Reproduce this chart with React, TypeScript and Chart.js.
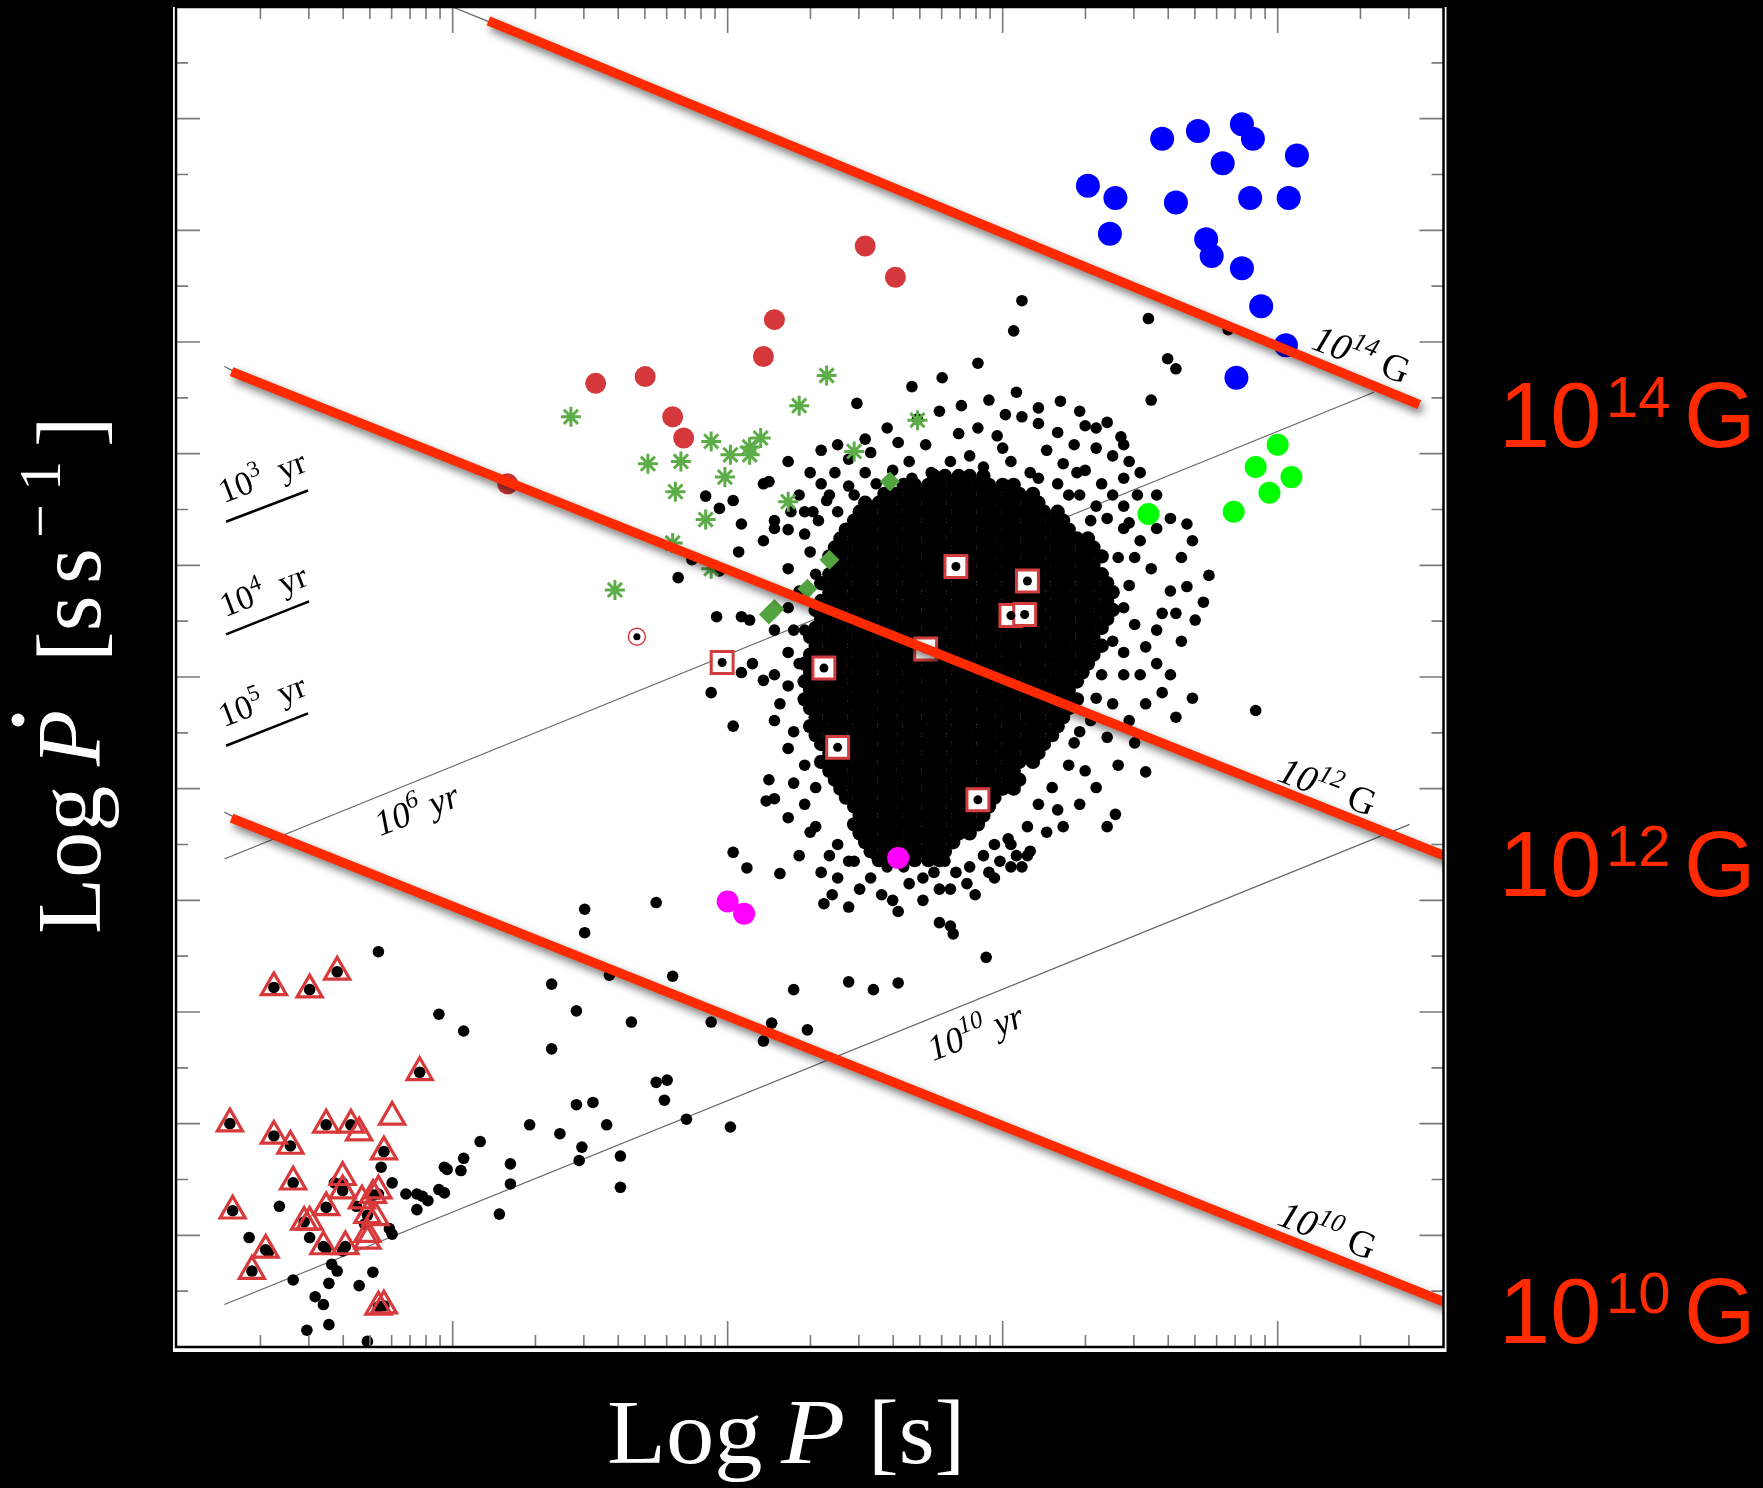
import { useEffect, useRef } from "react";
import { Chart, registerables } from "chart.js";
Chart.register(...registerables);

type Pt = [number, number];

// Axes: log10 P [s] (x) and log10 Pdot [s/s] (y)
const LOGP_MIN = -3.006;
const LOGP_MAX = 1.603;
const LOGPDOT_MIN = -21;
const LOGPDOT_MAX = -9;

const magnetars: Pt[] = [
  [0.31, -10.6], [0.41, -10.71], [0.39, -11.03], [0.58, -10.18], [0.71, -10.11], [0.87, -10.05],
  [0.91, -10.18], [0.8, -10.4], [1.07, -10.33], [0.63, -10.75], [0.9, -10.71], [1.04, -10.71],
  [0.74, -11.08], [0.76, -11.23], [0.87, -11.34], [0.94, -11.68], [1.03, -12.03], [0.85, -12.32],
];
const rrats: Pt[] = [
  [-0.5, -11.14], [-0.39, -11.42], [-0.83, -11.8], [-0.87, -12.13], [-1.3, -12.31],
  [-1.48, -12.37], [-1.2, -12.67], [-1.16, -12.86], [-1.8, -13.27],
];
const xdins: Pt[] = [
  [1.0, -12.92], [0.92, -13.12], [1.05, -13.21], [0.97, -13.35], [0.84, -13.52], [0.53, -13.54],
];
const ccos: Pt[] = [[-0.38, -16.62], [-1.0, -17.01], [-0.94, -17.12]];
const gammaPulsars: Pt[] = [
  [-1.57, -12.67], [-1.29, -13.09], [-1.17, -13.07], [-1.19, -13.34], [-1.08, -13.59], [-1.2, -13.8],
  [-1.41, -14.22], [-1.06, -12.89], [-0.99, -13.01], [-0.92, -12.94], [-0.88, -12.86], [-0.92, -13.01],
  [-1.01, -13.21], [-0.78, -13.43], [-0.74, -12.57], [-0.64, -12.3], [-0.54, -12.98], [-0.31, -12.7],
  [-1.06, -14.03],
];
const diamondPulsars: Pt[] = [[-0.41, -13.25], [-0.63, -13.95], [-0.71, -14.21], [-0.83, -14.39], [-0.85, -14.44]];
const snrPulsars: Pt[] = [
  [-0.17, -14.01], [0.09, -14.14], [0.03, -14.45], [0.08, -14.44], [-0.28, -14.75],
  [-0.65, -14.92], [-1.02, -14.87], [-0.6, -15.63], [-0.09, -16.1],
];
const binaryMsps: Pt[] = [
  [-2.65, -17.78], [-2.52, -17.8], [-2.42, -17.64], [-2.12, -18.54], [-2.81, -19.0], [-2.65, -19.11],
  [-2.59, -19.2], [-2.46, -19.01], [-2.37, -19.01], [-2.34, -19.08], [-2.22, -18.94], [-2.25, -19.25],
  [-2.58, -19.52], [-2.4, -19.48], [-2.4, -19.6], [-2.29, -19.64], [-2.27, -19.6], [-2.33, -19.69],
  [-2.8, -19.78], [-2.54, -19.88], [-2.52, -19.88], [-2.46, -19.75], [-2.31, -19.82], [-2.28, -19.84],
  [-2.68, -20.13], [-2.73, -20.32], [-2.47, -20.1], [-2.39, -20.1], [-2.31, -19.99], [-2.31, -20.05],
  [-2.27, -20.64], [-2.25, -20.63],
];
const sunPulsar: Pt[] = [[-1.33, -14.64]];

const mspDots: Pt[] = [
  [-2.8, -19.78], [-2.74, -20.02], [-2.67, -20.15], [-2.73, -20.32], [-2.63, -19.74], [-2.58, -20.4],
  [-2.58, -19.53], [-2.5, -20.55], [-2.47, -20.62], [-2.45, -20.43], [-2.53, -20.85], [-2.45, -20.8],
  [-2.34, -20.45], [-2.29, -20.33], [-2.31, -20.95], [-2.42, -20.32], [-2.44, -20.26], [-2.52, -20.02],
  [-2.46, -20.12], [-2.4, -20.14], [-2.22, -19.99], [-2.22, -19.53], [-2.17, -19.63], [-2.13, -19.63],
  [-2.09, -19.69], [-2.13, -19.77], [-2.05, -19.59], [-2.03, -19.62], [-2.03, -19.39], [-1.96, -19.31],
  [-1.83, -19.81], [-1.79, -19.54], [-1.79, -19.36], [-1.54, -19.33], [-1.39, -19.29], [-1.39, -19.57],
  [-2.26, -19.39], [-2.35, -19.74], [-2.32, -19.9], [-2.27, -19.63], [-2.23, -19.94], [-2.4, -19.53],
  [-2.43, -19.53], [-2.65, -17.78], [-2.52, -17.8], [-2.42, -17.64], [-2.12, -18.54], [-2.81, -19.0],
  [-2.65, -19.11], [-2.59, -19.2], [-2.46, -19.01], [-2.37, -19.01], [-2.25, -19.25], [-2.4, -19.6],
  [-2.54, -19.88], [-2.46, -19.75], [-2.68, -20.13], [-2.27, -20.64], [-2.25, -20.63], [-2.47, -20.1],
  [-2.39, -20.1], [-2.31, -19.82], [-2.29, -19.64],
];
const midDots: Pt[] = [
  [-2.27, -17.46], [-2.05, -18.02], [-1.96, -18.17], [-1.64, -17.75], [-1.55, -17.99], [-1.64, -18.33],
  [-1.43, -17.67], [-1.35, -18.09], [-1.2, -17.68], [-1.26, -17.02], [-1.52, -17.08], [-1.52, -17.29],
  [-1.06, -18.09], [-0.84, -18.1], [-0.87, -18.26], [-0.71, -18.16], [-0.76, -17.8], [-1.26, -18.63],
  [-1.22, -18.61], [-1.23, -18.79], [-1.15, -18.96], [-0.99, -19.03], [-1.49, -18.81], [-1.55, -18.83],
  [-1.72, -19.01], [-1.61, -19.09], [-1.44, -19.01], [-1.53, -19.21], [-1.9, -19.16], [-1.97, -19.42],
  [-2.02, -19.41], [-2.11, -19.65], [-0.98, -16.57], [-0.93, -16.71], [-0.81, -16.76], [-0.65, -17.03],
  [-0.62, -16.95], [-0.56, -17.06], [-0.38, -17.1], [-0.23, -17.2], [-0.19, -17.23], [-0.06, -17.51],
  [-0.38, -17.74], [-0.56, -17.73], [-0.47, -17.8],
];
const clusterEdgeDots: Pt[] = [
  [0.07, -11.63], [0.04, -11.9], [0.53, -11.79], [0.6, -12.15], [0.63, -12.24], [0.54, -12.52],
  [0.82, -11.89], [-0.09, -12.19], [-0.22, -12.32], [-0.33, -12.4], [0.05, -12.45], [0.21, -12.53],
  [-0.53, -12.55], [-0.09, -12.77], [-0.02, -12.84], [0.13, -12.73], [0.38, -12.72], [0.43, -12.85],
  [0.3, -12.75], [0.2, -12.81], [0.07, -12.67], [-0.16, -12.82], [-0.28, -12.92], [-0.38, -12.9],
  [-0.48, -12.99], [-0.56, -13.05], [-0.66, -12.97], [-0.78, -13.07], [-0.85, -13.25], [-0.7, -13.17],
  [-0.61, -13.17], [-0.4, -13.15], [-0.34, -13.07], [-0.12, -13.02], [0.0, -12.95], [0.16, -12.97],
  [0.26, -12.92], [0.34, -12.95], [0.4, -13.02], [0.46, -13.07], [0.27, -13.17], [0.36, -13.27],
  [0.44, -13.22], [0.49, -13.37], [0.61, -13.58], [0.67, -13.63], [0.44, -13.47], [0.38, -13.58],
  [0.1, -13.17], [0.2, -13.27], [0.28, -13.37], [0.34, -13.47], [-0.46, -13.27], [-0.54, -13.37],
  [-0.6, -13.52], [-0.67, -13.6], [-0.72, -13.72],
  [-0.6, -12.92], [-0.5, -12.87], [-0.42, -12.77], [-0.31, -12.69], [-0.23, -12.62], [-0.15, -12.57],
  [-0.05, -12.52], [0.01, -12.65], [0.13, -12.59], [0.28, -12.62], [0.34, -12.77], [0.44, -12.92],
  [0.5, -13.17], [0.56, -13.37], [0.52, -13.52], [0.46, -13.62], [0.03, -13.07], [-0.07, -13.12],
  [-0.19, -13.07], [-0.26, -13.17], [-0.33, -13.22], [-0.5, -13.17], [-0.56, -13.29], [-0.63, -13.37],
  [0.13, -13.22], [0.22, -13.09], [0.3, -13.15], [0.4, -13.37], [0.32, -13.6], [0.24, -13.37],
  [-1.18, -14.11], [-1.13, -13.95], [-1.03, -14.05], [-0.96, -13.88], [-0.95, -14.46], [-0.92, -14.49],
  [-0.78, -14.03], [-0.83, -13.67], [-0.87, -13.78], [-0.77, -13.52], [-0.69, -13.52], [-0.64, -13.42],
  [-1.08, -13.38], [-1.03, -13.49], [-0.98, -13.42], [-0.95, -13.63], [-0.87, -13.27], [-0.83, -13.6],
  [-0.74, -13.37], [-0.7, -13.88], [-0.68, -14.08], [-0.74, -14.23], [-0.76, -14.58], [-0.72, -14.58],
  [-0.78, -14.78], [-0.74, -14.88], [-0.83, -14.98], [-0.87, -15.03], [-0.95, -14.96], [-1.06, -15.14],
  [-0.78, -15.08], [-0.76, -15.49], [-0.83, -15.39], [-0.72, -15.79], [-0.85, -15.92], [-0.86, -16.11],
  [-0.78, -16.26], [-0.7, -16.39], [-0.74, -16.6], [-0.66, -16.75], [-0.68, -15.99], [-0.72, -16.14],
  [-0.63, -16.6], [-0.6, -16.8], [-0.98, -15.44], [-1.04, -14.46],
  [-0.78, -14.38], [-0.83, -14.58], [-0.81, -15.24], [-0.78, -15.64], [-0.76, -15.95], [-0.83, -16.09],
  [-0.68, -16.34], [-0.6, -16.5], [-0.56, -16.65], [-0.91, -14.88], [-0.78, -13.68], [-0.72, -13.52],
  [-0.66, -13.27],
  [0.44, -13.67], [0.5, -13.78], [0.56, -13.67], [0.65, -13.93], [0.7, -14.49], [0.75, -14.09],
  [0.67, -14.19], [0.61, -14.23], [0.63, -14.43], [0.56, -14.58], [0.52, -14.73], [0.48, -14.53],
  [0.44, -14.78], [0.56, -14.88], [0.52, -15.24], [0.63, -15.36], [0.44, -14.98], [0.4, -15.24],
  [0.46, -15.39], [0.38, -15.54], [0.3, -15.84], [0.26, -15.59], [0.32, -15.39], [0.52, -15.85],
  [0.41, -16.23], [0.2, -16.19], [0.16, -16.39], [0.1, -16.56], [0.07, -16.7], [0.92, -15.3],
  [0.42, -13.93], [0.46, -14.18], [0.44, -14.38], [0.4, -14.68], [0.36, -14.98], [0.34, -15.19],
  [0.28, -15.49], [0.24, -15.79], [0.18, -15.99], [0.13, -16.14], [0.09, -16.34], [0.03, -16.5],
  [-0.01, -16.65], [-0.05, -16.75],
  [0.48, -13.93], [0.54, -14.03], [0.69, -13.78], [0.73, -14.33], [0.58, -14.43], [0.65, -14.68],
  [0.5, -14.98], [0.58, -15.14], [0.48, -15.59], [0.42, -15.79], [0.34, -15.99], [0.28, -16.14],
  [0.22, -16.34], [0.61, -14.98], [0.69, -15.19], [0.38, -16.34],
  [-0.54, -16.65], [-0.48, -16.8], [-0.44, -16.95], [-0.29, -17.0], [-0.23, -16.9], [-0.17, -16.75],
  [-0.12, -16.7], [-0.07, -16.6], [-0.03, -16.5], [0.02, -16.45], [0.05, -16.6], [-0.1, -16.95],
  [-0.18, -17.3], [-0.46, -16.6], [-0.36, -16.7], [-0.29, -16.8], [-0.21, -16.65],
  [-0.42, -16.7], [-0.34, -16.85], [-0.25, -16.75], [-0.13, -16.85], [-0.19, -16.9], [-0.4, -17.0],
  [-0.52, -16.9], [-0.03, -16.8], [0.03, -16.7], [0.09, -16.6],
];
// dense core of the normal-pulsar population: rows of log Pdot with the log P of each dot
const coreRows: [number, number[]][] = [
  [-13.2, [-0.25, -0.21, -0.16, -0.12, -0.07]],
  [-13.28, [-0.36, -0.32, -0.27, -0.23, -0.18, -0.14, -0.09, -0.05, 0.0, 0.04]],
  [-13.36, [-0.43, -0.39, -0.34, -0.3, -0.25, -0.21, -0.16, -0.12, -0.07, -0.03, 0.02, 0.06, 0.11]],
  [-13.44, [-0.5, -0.45, -0.41, -0.36, -0.32, -0.27, -0.23, -0.18, -0.14, -0.09, -0.05, 0.0, 0.04, 0.09, 0.13]],
  [-13.52, [-0.52, -0.48, -0.43, -0.39, -0.34, -0.3, -0.25, -0.21, -0.16, -0.12, -0.07, -0.03, 0.02, 0.06, 0.11, 0.15, 0.2]],
  [-13.6, [-0.54, -0.5, -0.45, -0.41, -0.36, -0.32, -0.27, -0.23, -0.18, -0.14, -0.09, -0.05, 0.0, 0.04, 0.09, 0.13, 0.18, 0.22]],
  [-13.68, [-0.57, -0.52, -0.48, -0.43, -0.39, -0.34, -0.3, -0.25, -0.21, -0.16, -0.12, -0.07, -0.03, 0.02, 0.06, 0.11, 0.15, 0.2, 0.24]],
  [-13.76, [-0.59, -0.54, -0.5, -0.45, -0.41, -0.36, -0.32, -0.27, -0.23, -0.18, -0.14, -0.09, -0.05, 0.0, 0.04, 0.09, 0.13, 0.18, 0.22, 0.27, 0.31]],
  [-13.84, [-0.61, -0.57, -0.52, -0.48, -0.43, -0.39, -0.34, -0.3, -0.25, -0.21, -0.16, -0.12, -0.07, -0.03, 0.02, 0.06, 0.11, 0.15, 0.2, 0.24, 0.29, 0.33]],
  [-13.92, [-0.63, -0.59, -0.54, -0.5, -0.45, -0.41, -0.36, -0.32, -0.27, -0.23, -0.18, -0.14, -0.09, -0.05, 0.0, 0.04, 0.09, 0.13, 0.18, 0.22, 0.27, 0.31, 0.36]],
  [-14.0, [-0.61, -0.57, -0.52, -0.48, -0.43, -0.39, -0.34, -0.3, -0.25, -0.21, -0.16, -0.12, -0.07, -0.03, 0.02, 0.06, 0.11, 0.15, 0.2, 0.24, 0.29, 0.33]],
  [-14.08, [-0.63, -0.59, -0.54, -0.5, -0.45, -0.41, -0.36, -0.32, -0.27, -0.23, -0.18, -0.14, -0.09, -0.05, 0.0, 0.04, 0.09, 0.13, 0.18, 0.22, 0.27, 0.31, 0.36]],
  [-14.16, [-0.66, -0.61, -0.57, -0.52, -0.48, -0.43, -0.39, -0.34, -0.3, -0.25, -0.21, -0.16, -0.12, -0.07, -0.03, 0.02, 0.06, 0.11, 0.15, 0.2, 0.24, 0.29, 0.33, 0.38]],
  [-14.24, [-0.63, -0.59, -0.54, -0.5, -0.45, -0.41, -0.36, -0.32, -0.27, -0.23, -0.18, -0.14, -0.09, -0.05, 0.0, 0.04, 0.09, 0.13, 0.18, 0.22, 0.27, 0.31, 0.36, 0.4]],
  [-14.32, [-0.66, -0.61, -0.57, -0.52, -0.48, -0.43, -0.39, -0.34, -0.3, -0.25, -0.21, -0.16, -0.12, -0.07, -0.03, 0.02, 0.06, 0.11, 0.15, 0.2, 0.24, 0.29, 0.33, 0.38]],
  [-14.4, [-0.68, -0.63, -0.59, -0.54, -0.5, -0.45, -0.41, -0.36, -0.32, -0.27, -0.23, -0.18, -0.14, -0.09, -0.05, 0.0, 0.04, 0.09, 0.13, 0.18, 0.22, 0.27, 0.31, 0.36, 0.4]],
  [-14.48, [-0.66, -0.61, -0.57, -0.52, -0.48, -0.43, -0.39, -0.34, -0.3, -0.25, -0.21, -0.16, -0.12, -0.07, -0.03, 0.02, 0.06, 0.11, 0.15, 0.2, 0.24, 0.29, 0.33, 0.38]],
  [-14.56, [-0.68, -0.63, -0.59, -0.54, -0.5, -0.45, -0.41, -0.36, -0.32, -0.27, -0.23, -0.18, -0.14, -0.09, -0.05, 0.0, 0.04, 0.09, 0.13, 0.18, 0.22, 0.27, 0.31, 0.36]],
  [-14.64, [-0.7, -0.66, -0.61, -0.57, -0.52, -0.48, -0.43, -0.39, -0.34, -0.3, -0.25, -0.21, -0.16, -0.12, -0.07, -0.03, 0.02, 0.06, 0.11, 0.15, 0.2, 0.24, 0.29, 0.33]],
  [-14.72, [-0.68, -0.63, -0.59, -0.54, -0.5, -0.45, -0.41, -0.36, -0.32, -0.27, -0.23, -0.18, -0.14, -0.09, -0.05, 0.0, 0.04, 0.09, 0.13, 0.18, 0.22, 0.27, 0.31, 0.36]],
  [-14.8, [-0.7, -0.66, -0.61, -0.57, -0.52, -0.48, -0.43, -0.39, -0.34, -0.3, -0.25, -0.21, -0.16, -0.12, -0.07, -0.03, 0.02, 0.06, 0.11, 0.15, 0.2, 0.24, 0.29, 0.33]],
  [-14.88, [-0.72, -0.68, -0.63, -0.59, -0.54, -0.5, -0.45, -0.41, -0.36, -0.32, -0.27, -0.23, -0.18, -0.14, -0.09, -0.05, 0.0, 0.04, 0.09, 0.13, 0.18, 0.22, 0.27, 0.31]],
  [-14.96, [-0.7, -0.66, -0.61, -0.57, -0.52, -0.48, -0.43, -0.39, -0.34, -0.3, -0.25, -0.21, -0.16, -0.12, -0.07, -0.03, 0.02, 0.06, 0.11, 0.15, 0.2, 0.24, 0.29]],
  [-15.04, [-0.72, -0.68, -0.63, -0.59, -0.54, -0.5, -0.45, -0.41, -0.36, -0.32, -0.27, -0.23, -0.18, -0.14, -0.09, -0.05, 0.0, 0.04, 0.09, 0.13, 0.18, 0.22, 0.27]],
  [-15.12, [-0.7, -0.66, -0.61, -0.57, -0.52, -0.48, -0.43, -0.39, -0.34, -0.3, -0.25, -0.21, -0.16, -0.12, -0.07, -0.03, 0.02, 0.06, 0.11, 0.15, 0.2, 0.24]],
  [-15.2, [-0.72, -0.68, -0.63, -0.59, -0.54, -0.5, -0.45, -0.41, -0.36, -0.32, -0.27, -0.23, -0.18, -0.14, -0.09, -0.05, 0.0, 0.04, 0.09, 0.13, 0.18, 0.22, 0.27]],
  [-15.28, [-0.7, -0.66, -0.61, -0.57, -0.52, -0.48, -0.43, -0.39, -0.34, -0.3, -0.25, -0.21, -0.16, -0.12, -0.07, -0.03, 0.02, 0.06, 0.11, 0.15, 0.2, 0.24]],
  [-15.36, [-0.68, -0.63, -0.59, -0.54, -0.5, -0.45, -0.41, -0.36, -0.32, -0.27, -0.23, -0.18, -0.14, -0.09, -0.05, 0.0, 0.04, 0.09, 0.13, 0.18, 0.22]],
  [-15.44, [-0.7, -0.66, -0.61, -0.57, -0.52, -0.48, -0.43, -0.39, -0.34, -0.3, -0.25, -0.21, -0.16, -0.12, -0.07, -0.03, 0.02, 0.06, 0.11, 0.15, 0.2]],
  [-15.52, [-0.68, -0.63, -0.59, -0.54, -0.5, -0.45, -0.41, -0.36, -0.32, -0.27, -0.23, -0.18, -0.14, -0.09, -0.05, 0.0, 0.04, 0.09, 0.13, 0.18]],
  [-15.6, [-0.66, -0.61, -0.57, -0.52, -0.48, -0.43, -0.39, -0.34, -0.3, -0.25, -0.21, -0.16, -0.12, -0.07, -0.03, 0.02, 0.06, 0.11, 0.15]],
  [-15.68, [-0.63, -0.59, -0.54, -0.5, -0.45, -0.41, -0.36, -0.32, -0.27, -0.23, -0.18, -0.14, -0.09, -0.05, 0.0, 0.04, 0.09, 0.13]],
  [-15.76, [-0.66, -0.61, -0.57, -0.52, -0.48, -0.43, -0.39, -0.34, -0.3, -0.25, -0.21, -0.16, -0.12, -0.07, -0.03, 0.02, 0.06, 0.11]],
  [-15.84, [-0.63, -0.59, -0.54, -0.5, -0.45, -0.41, -0.36, -0.32, -0.27, -0.23, -0.18, -0.14, -0.09, -0.05, 0.0, 0.04]],
  [-15.92, [-0.61, -0.57, -0.52, -0.48, -0.43, -0.39, -0.34, -0.3, -0.25, -0.21, -0.16, -0.12, -0.07, -0.03, 0.02, 0.06]],
  [-16.0, [-0.59, -0.54, -0.5, -0.45, -0.41, -0.36, -0.32, -0.27, -0.23, -0.18, -0.14, -0.09, -0.05, 0.0, 0.04]],
  [-16.08, [-0.57, -0.52, -0.48, -0.43, -0.39, -0.34, -0.3, -0.25, -0.21, -0.16, -0.12, -0.07, -0.03]],
  [-16.16, [-0.54, -0.5, -0.45, -0.41, -0.36, -0.32, -0.27, -0.23, -0.18, -0.14, -0.09, -0.05]],
  [-16.24, [-0.52, -0.48, -0.43, -0.39, -0.34, -0.3, -0.25, -0.21, -0.16, -0.12, -0.07]],
  [-16.32, [-0.54, -0.5, -0.45, -0.41, -0.36, -0.32, -0.27, -0.23, -0.18, -0.14, -0.09]],
  [-16.4, [-0.52, -0.48, -0.43, -0.39, -0.34, -0.3, -0.25, -0.21, -0.16, -0.12]],
  [-16.48, [-0.5, -0.45, -0.41, -0.36, -0.32, -0.27, -0.23, -0.18]],
  [-16.56, [-0.48, -0.43, -0.39, -0.34, -0.3, -0.25, -0.21]],
  [-16.64, [-0.45, -0.41, -0.36, -0.32, -0.27, -0.23]],
];

// characteristic-age lines and dipole-field lines (end points)
const age1e6: Pt[] = [[-2.83, -16.63], [1.35, -12.45]];
const age1e10: Pt[] = [[-2.83, -20.62], [1.48, -16.32]];
const thinB14: Pt[] = [[-2.03, -8.97], [-1.86, -9.14]];
const thinB12: Pt[] = [[-2.83, -12.22], [-2.79, -12.27]];
const thinB10: Pt[] = [[-2.83, -16.21], [-2.79, -16.26]];
const field14: Pt[] = [[-1.87, -9.125], [1.515, -12.56]];
const field12: Pt[] = [[-2.804, -12.266], [1.62, -16.615]];
const field10: Pt[] = [[-2.804, -16.264], [1.62, -20.61]];

const fieldLabels: { sup: string; at: Pt }[] = [
  { sup: "14", at: [1.1175, -12.056] },
  { sup: "12", at: [0.994, -15.925] },
  { sup: "10", at: [0.994, -19.9] },
];
const ageLabels: { sup: string; at: Pt }[] = [
  { sup: "6", at: [-2.264, -16.426] },
  { sup: "10", at: [-0.253, -18.441] },
];
const ageKey: { sup: string; at: Pt; line: Pt[] }[] = [
  { sup: "3", at: [-2.832, -13.444], line: [[-2.824, -13.61], [-2.526, -13.33]] },
  { sup: "4", at: [-2.828, -14.465], line: [[-2.824, -14.618], [-2.522, -14.322]] },
  { sup: "5", at: [-2.832, -15.45], line: [[-2.824, -15.616], [-2.526, -15.325]] },
];
const bigLabels = ["14", "12", "10"];

const xy = (p: Pt) => ({ x: p[0], y: p[1] });
const scatteredBlack = [...mspDots, ...midDots, ...clusterEdgeDots].map(xy);
const coreBlack = coreRows.flatMap(([y, xsr]) => xsr.map((x) => ({ x, y })));

const SERIF = '"Liberation Serif", "Times New Roman", serif';
const SANS = '"Liberation Sans", Arial, sans-serif';

type Seg = { t: string; font: string; dy?: number };
function drawSegs(ctx: CanvasRenderingContext2D, segs: Seg[]) {
  let x = 0;
  for (const s of segs) {
    ctx.font = s.font;
    ctx.fillText(s.t, x, -(s.dy || 0));
    x += ctx.measureText(s.t).width;
  }
}

const decor = {
  id: "decor",
  beforeDraw(chart: any) {
    const { ctx, chartArea: a, width, height } = chart;
    ctx.save();
    ctx.fillStyle = "#000";
    ctx.fillRect(0, 0, width, height);
    ctx.fillStyle = "#fff";
    ctx.fillRect(a.left - 3, a.top, a.right - a.left + 6, a.bottom - a.top + 5);
    ctx.restore();
  },
  beforeDatasetDraw(chart: any, args: any) {
    const ds = chart.data.datasets[args.index];
    if (ds.shadow) {
      const ctx = chart.ctx;
      ctx.save();
      ctx.shadowColor = "rgba(0,0,0,0.55)";
      ctx.shadowBlur = 9;
      ctx.shadowOffsetX = 3;
      ctx.shadowOffsetY = 5;
    }
  },
  afterDatasetDraw(chart: any, args: any) {
    const ds = chart.data.datasets[args.index];
    if (ds.shadow) chart.ctx.restore();
  },
  afterDatasetsDraw(chart: any) {
    const { ctx, chartArea: a } = chart;
    const xs = chart.scales.x;
    const ys = chart.scales.y;
    const px = (p: Pt) => [xs.getPixelForValue(p[0]), ys.getPixelForValue(p[1])];
    ctx.save();
    // ticks
    ctx.strokeStyle = "#7a7a7a";
    ctx.lineWidth = 1.6;
    ctx.beginPath();
    for (let d = -4; d <= 1; d++) {
      for (let m = 1; m <= 9; m++) {
        const v = d + Math.log10(m);
        if (v <= xs.min + 0.01 || v >= xs.max - 0.01) continue;
        const x = xs.getPixelForValue(v);
        const len = m === 1 ? 26 : 12;
        ctx.moveTo(x, a.top);
        ctx.lineTo(x, a.top + len);
        ctx.moveTo(x, a.bottom);
        ctx.lineTo(x, a.bottom - len);
      }
    }
    for (let v = LOGPDOT_MIN + 0.5; v < LOGPDOT_MAX; v += 0.5) {
      const y = ys.getPixelForValue(v);
      const major = Math.abs(v - Math.round(v)) < 0.01;
      ctx.moveTo(a.left, y);
      ctx.lineTo(a.left + (major ? 24 : 12), y);
      ctx.moveTo(a.right, y);
      ctx.lineTo(a.right - (major ? 24 : 12), y);
    }
    ctx.stroke();
    // frame
    ctx.strokeStyle = "#000";
    ctx.lineWidth = 2.5;
    ctx.strokeRect(a.left, a.top, a.right - a.left, a.bottom - a.top);

    // field line labels
    ctx.fillStyle = "#000";
    ctx.textBaseline = "alphabetic";
    ctx.textAlign = "left";
    for (const l of fieldLabels) {
      const [x, y] = px(l.at);
      ctx.save();
      ctx.translate(x, y);
      ctx.rotate((21 * Math.PI) / 180);
      drawSegs(ctx, [
        { t: "10", font: `italic 38px ${SERIF}` },
        { t: l.sup, font: `italic 26px ${SERIF}`, dy: 15 },
        { t: " G", font: `38px ${SERIF}` },
      ]);
      ctx.restore();
    }
    for (const l of ageLabels) {
      const [x, y] = px(l.at);
      ctx.save();
      ctx.translate(x, y);
      ctx.rotate((-21 * Math.PI) / 180);
      drawSegs(ctx, [
        { t: "10", font: `italic 36px ${SERIF}` },
        { t: l.sup, font: `italic 25px ${SERIF}`, dy: 15 },
        { t: " yr", font: `italic 36px ${SERIF}` },
      ]);
      ctx.restore();
    }
    for (const l of ageKey) {
      const [x, y] = px(l.at);
      ctx.save();
      ctx.translate(x, y);
      ctx.rotate((-21 * Math.PI) / 180);
      drawSegs(ctx, [
        { t: "10", font: `34px ${SERIF}` },
        { t: l.sup, font: `23px ${SERIF}`, dy: 14 },
        { t: "  yr", font: `34px ${SERIF}` },
      ]);
      ctx.restore();
      const [x1, y1] = px(l.line[0]);
      const [x2, y2] = px(l.line[1]);
      ctx.strokeStyle = "#000";
      ctx.lineWidth = 2.5;
      ctx.beginPath();
      ctx.moveTo(x1, y1);
      ctx.lineTo(x2, y2);
      ctx.stroke();
    }

    // big red field labels at right
    ctx.fillStyle = "#ff2a00";
    const baselines = [447, 896, 1343];
    bigLabels.forEach((s, i) => {
      const b = baselines[i];
      ctx.font = `92px ${SANS}`;
      ctx.fillText("10", 1499, b);
      ctx.font = `58px ${SANS}`;
      ctx.fillText(s, 1606, b - 30);
      ctx.font = `92px ${SANS}`;
      ctx.fillText("G", 1684, b);
    });

    // axis titles
    ctx.fillStyle = "#fff";
    ctx.save();
    ctx.translate(607, 1463);
    ctx.scale(1.05, 1);
    ctx.font = `92px ${SERIF}`;
    ctx.fillText("Log", 0, 0);
    ctx.restore();
    ctx.save();
    ctx.translate(781, 1463);
    ctx.scale(1.12, 1);
    ctx.font = `italic 94px ${SERIF}`;
    ctx.fillText("P", 0, 0);
    ctx.restore();
    ctx.font = `92px ${SERIF}`;
    ctx.fillText("[s]", 868, 1463);

    ctx.save();
    ctx.translate(100, 934);
    ctx.rotate(-Math.PI / 2);
    ctx.font = `92px ${SERIF}`;
    ctx.fillText("Log", 0, 0);
    ctx.font = `italic 92px ${SERIF}`;
    ctx.fillText("P", 168, 0);
    ctx.beginPath();
    ctx.arc(214, -82, 6.5, 0, Math.PI * 2);
    ctx.fill();
    ctx.font = `92px ${SERIF}`;
    ctx.fillText("[s", 272, 0);
    ctx.fillText("s", 350, 0);
    ctx.font = `60px ${SERIF}`;
    ctx.fillText("\u2212", 396, -40);
    ctx.fillText("1", 443, -40);
    ctx.font = `92px ${SERIF}`;
    ctx.fillText("]", 487, 0);
    ctx.restore();

    ctx.restore();
  },
};

const lineDs = (data: Pt[], color: string, width: number, order: number, extra: any = {}) => ({
  type: "line",
  data: data.map(xy),
  borderColor: color,
  borderWidth: width,
  pointRadius: 0,
  fill: false,
  tension: 0,
  borderCapStyle: "butt",
  order,
  ...extra,
});

export default function App() {
  const ref = useRef<HTMLCanvasElement>(null);
  useEffect(() => {
    if (!ref.current) return;
    const red = "#ff2a00";
    const chart = new Chart(ref.current, {
      type: "scatter",
      data: {
        datasets: [
          lineDs(field14, red, 9.5, 0, { shadow: true }),
          lineDs(field12, red, 9.5, 0, { shadow: true }),
          lineDs(field10, red, 9.5, 0, { shadow: true }),
          {
            data: binaryMsps.map(xy),
            pointStyle: "triangle",
            pointRadius: 14.5,
            backgroundColor: "rgba(0,0,0,0)",
            borderColor: "#d8393b",
            borderWidth: 3.2,
            order: 1,
          },
          {
            data: snrPulsars.map(xy),
            pointStyle: "circle",
            pointRadius: 4.5,
            backgroundColor: "#000",
            borderWidth: 0,
            order: 2,
          },
          {
            data: snrPulsars.map(xy),
            pointStyle: "rect",
            pointRadius: 15.5,
            backgroundColor: "#fff",
            borderColor: "#d23c3c",
            borderWidth: 3,
            order: 3,
          },
          {
            data: sunPulsar.map(xy),
            pointStyle: "circle",
            pointRadius: 3.5,
            backgroundColor: "#000",
            borderWidth: 0,
            order: 2,
          },
          {
            data: sunPulsar.map(xy),
            pointStyle: "circle",
            pointRadius: 8.5,
            backgroundColor: "#fff",
            borderColor: "#d8393b",
            borderWidth: 1.5,
            order: 3,
          },
          { data: magnetars.map(xy), pointRadius: 12, backgroundColor: "#0000ff", borderWidth: 0, order: 4 },
          { data: rrats.map(xy), pointRadius: 10.5, backgroundColor: "#d5383a", borderWidth: 0, order: 4 },
          { data: xdins.map(xy), pointRadius: 11, backgroundColor: "#00ff00", borderWidth: 0, order: 4 },
          { data: ccos.map(xy), pointRadius: 11, backgroundColor: "#ff00ff", borderWidth: 0, order: 4 },
          {
            data: gammaPulsars.map(xy),
            pointStyle: "star",
            pointRadius: 10,
            backgroundColor: "#5cad48",
            borderColor: "#5cad48",
            borderWidth: 3,
            order: 5,
          },
          {
            data: diamondPulsars.map(xy),
            pointStyle: "rectRot",
            pointRadius: 10,
            backgroundColor: "#54a341",
            borderWidth: 0,
            order: 5,
          },
          { data: scatteredBlack, pointRadius: 5.8, backgroundColor: "#000", borderWidth: 0, order: 6 },
          { data: coreBlack, pointRadius: 7.2, backgroundColor: "#000", borderWidth: 0, order: 6 },
          lineDs(age1e6, "#666", 1.2, 7),
          lineDs(age1e10, "#666", 1.2, 7),
          lineDs(thinB14, "#666", 1.2, 7),
          lineDs(thinB12, "#666", 1.2, 7),
          lineDs(thinB10, "#666", 1.2, 7),
        ] as any,
      },
      options: {
        animation: false,
        responsive: false,
        devicePixelRatio: 1,
        events: [],
        layout: { autoPadding: false, padding: { left: 176, top: 7, right: 319.5, bottom: 141 } },
        scales: {
          x: { type: "linear", min: LOGP_MIN, max: LOGP_MAX, display: false },
          y: { type: "linear", min: LOGPDOT_MIN, max: LOGPDOT_MAX, display: false },
        },
        plugins: { legend: { display: false }, tooltip: { enabled: false } },
      } as any,
      plugins: [decor as any],
    });
    return () => chart.destroy();
  }, []);
  return (
    <div style={{ position: "fixed", left: 0, top: 0, width: 1763, height: 1488, background: "#000" }}>
      <canvas ref={ref} width={1763} height={1488} style={{ display: "block", width: 1763, height: 1488 }} />
    </div>
  );
}
